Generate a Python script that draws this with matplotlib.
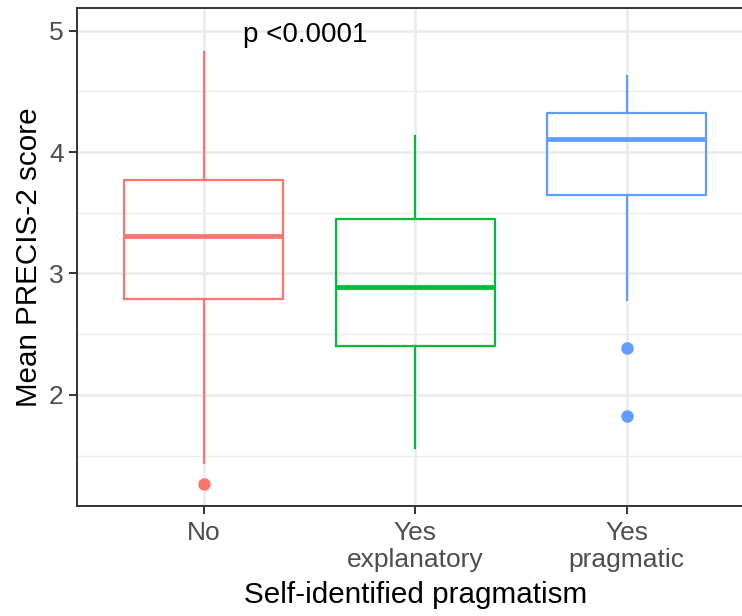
import matplotlib
matplotlib.use('Agg')
import numpy as np
import matplotlib.pyplot as plt
from matplotlib.ticker import MultipleLocator

# --- data ---
groups = ['No', 'Yes\nexplanatory', 'Yes\npragmatic']
colors = ['#F8766D', '#00BA38', '#619CFF']
whis_lo = [1.44, 1.56, 2.78]
q1 = [2.79, 2.40, 3.645]
medians = [3.31, 2.885, 4.11]
q3 = [3.77, 3.45, 4.32]
whis_hi = [4.82, 4.13, 4.63]
outliers = [[1.27], [], [2.39, 1.83]]
p_label = 'p <0.0001'

plt.rcParams['font.family'] = ['Liberation Sans', 'DejaVu Sans']

fig = plt.figure(figsize=(7.42, 6.16), dpi=100)
# panel runs off the right edge in the reference
ax = fig.add_axes([76.7 / 742, 1 - 506 / 616, 677 / 742, 498.5 / 616])

positions = np.arange(1, len(groups) + 1)
for i, pos in enumerate(positions):
    stats = [{
        'whislo': whis_lo[i], 'q1': q1[i], 'med': medians[i],
        'q3': q3[i], 'whishi': whis_hi[i], 'fliers': outliers[i],
    }]
    c = colors[i]
    ax.bxp(
        stats, positions=[pos], widths=0.75, showcaps=False,
        boxprops=dict(color=c, linewidth=1.6),
        whiskerprops=dict(color=c, linewidth=1.6),
        medianprops=dict(color=c, linewidth=3.4, solid_capstyle='butt'),
        flierprops=dict(marker='o', markerfacecolor=c, markeredgecolor=c,
                        markersize=8),
        zorder=3,
    )

ax.set_xlim(0.4, 3.6)
ax.set_ylim(1.085, 5.19)
ax.set_xticks(positions)
ax.set_xticklabels(groups, linespacing=1.2)
ax.yaxis.set_major_locator(MultipleLocator(1))
ax.yaxis.set_minor_locator(MultipleLocator(0.5))

# theme_bw look
ax.grid(which='major', color='#EBEBEB', linewidth=1.8, zorder=0)
ax.grid(which='minor', axis='y', color='#EBEBEB', linewidth=1.0, zorder=0)
ax.set_axisbelow(True)
for s in ax.spines.values():
    s.set_color('#333333')
    s.set_linewidth(1.4)
ax.tick_params(axis='both', which='major', length=5.5, width=1.4, color='#333333',
               labelsize=19, labelcolor='#4D4D4D')
ax.tick_params(axis='y', which='major', pad=4)
ax.tick_params(axis='x', which='major', pad=5)
ax.tick_params(axis='y', which='minor', length=0)

ax.text(1.48, 4.91, p_label, fontsize=20, ha='center', va='baseline', color='black')

ax.set_xlabel('Self-identified pragmatism', fontsize=21.3, labelpad=6)
ax.set_ylabel('Mean PRECIS-2 score', fontsize=21.3, labelpad=4.3)

plt.savefig('out.png', dpi=100)
plt.close(fig)
